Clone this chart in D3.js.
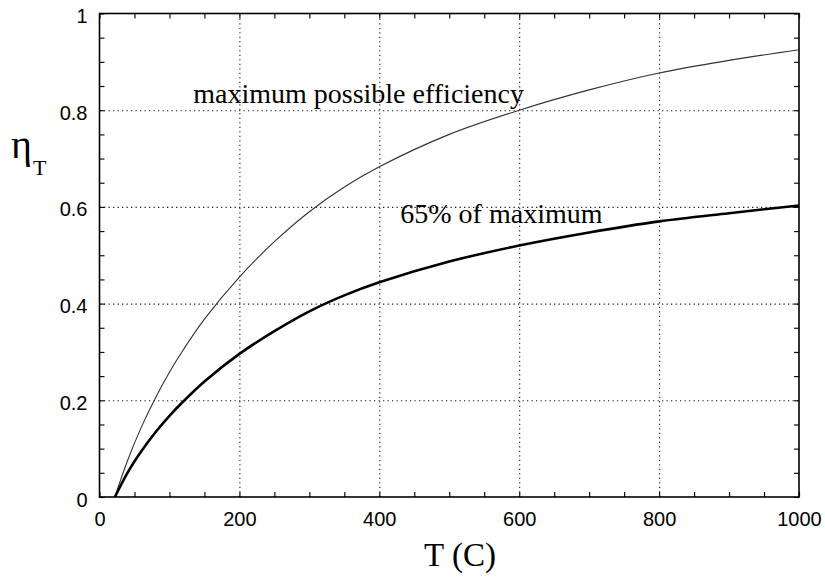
<!DOCTYPE html>
<html>
<head>
<meta charset="utf-8">
<script src="https://cdn.jsdelivr.net/npm/d3@7"></script>
<style>
  html, body { margin: 0; padding: 0; background: #fff; }
  svg { display: block; }
</style>
</head>
<body>
<svg id="chart" width="825" height="577"></svg>
<script>
// Source temperature (deg C) and turbine efficiency curves
const tempC = [22, 40, 60, 80, 100, 120, 150, 200, 250, 300, 350, 400, 500, 600, 700, 800, 900, 1000];
const maxEfficiency = [0, 0.075, 0.145, 0.205, 0.258, 0.305, 0.368, 0.455, 0.528, 0.59, 0.641, 0.683, 0.75, 0.8, 0.842, 0.877, 0.903, 0.925];
const practicalEfficiency = [0, 0.05, 0.095, 0.134, 0.168, 0.198, 0.239, 0.296, 0.343, 0.384, 0.417, 0.444, 0.487, 0.52, 0.547, 0.57, 0.587, 0.603];

// Axis ticks
const xMajorTicks = [0, 200, 400, 600, 800, 1000];
const xMinorTicks = [50, 100, 150, 250, 300, 350, 450, 500, 550, 650, 700, 750, 850, 900, 950];
const yMajorTicks = [0, 0.2, 0.4, 0.6, 0.8, 1];
const yMinorTicks = [0.05, 0.1, 0.15, 0.25, 0.3, 0.35, 0.45, 0.5, 0.55, 0.65, 0.7, 0.75, 0.85, 0.9, 0.95];

const svg = d3.select("#chart");
const x = d3.scaleLinear().domain([0, 1000]).range([99.5, 799]);
const y = d3.scaleLinear().domain([0, 1]).range([497, 13.5]);
const [x0, x1] = x.range();
const [y0, y1] = y.range();
const plotH = y0 - y1, plotW = x1 - x0;

// Dotted grid at the major ticks
const grid = svg.append("g").attr("class", "grid");
grid.append("g").attr("transform", `translate(0,${y0})`)
  .call(d3.axisBottom(x).tickValues(xMajorTicks.slice(1, -1)).tickSize(-plotH).tickFormat(""));
grid.append("g").attr("transform", `translate(${x0},0)`)
  .call(d3.axisLeft(y).tickValues(yMajorTicks.slice(1, -1)).tickSize(-plotW).tickFormat(""));
grid.selectAll(".domain").remove();
grid.selectAll("line").attr("stroke", "#222").attr("stroke-width", 1.1).attr("stroke-dasharray", "1.3,3.2");

// Inward ticks on all four sides
function ticks(axisFn, scale, values, size, transform) {
  const g = svg.append("g").attr("transform", transform)
    .call(axisFn(scale).tickValues(values).tickSize(size).tickFormat(""));
  g.select(".domain").remove();
  g.selectAll("line").attr("stroke", "#111").attr("stroke-width", 1.2);
}
const allX = xMajorTicks.concat(xMinorTicks), allY = yMajorTicks.concat(yMinorTicks);
ticks(d3.axisBottom, x, allX, -5, `translate(0,${y0})`);
ticks(d3.axisTop, x, allX, -5, `translate(0,${y1})`);
ticks(d3.axisLeft, y, allY, -5, `translate(${x0},0)`);
ticks(d3.axisRight, y, allY, -5, `translate(${x1},0)`);

// Frame
svg.append("rect").attr("x", x0).attr("y", y1).attr("width", plotW).attr("height", plotH)
  .attr("fill", "none").attr("stroke", "#000").attr("stroke-width", 1.6);

// Tick labels
const fmtY = d => d === 0 ? "0" : d === 1 ? "1" : d3.format(".1f")(d);
const xl = svg.append("g").attr("transform", `translate(0,${y0})`)
  .call(d3.axisBottom(x).tickValues(xMajorTicks).tickSize(0).tickPadding(15).tickFormat(d3.format("d")));
xl.select(".domain").remove();
xl.selectAll("text").attr("font-family", "Liberation Sans, Arial, sans-serif").attr("font-size", 20).attr("fill", "#000");
const yl = svg.append("g").attr("transform", `translate(${x0},0)`)
  .call(d3.axisLeft(y).tickValues(yMajorTicks).tickSize(0).tickPadding(12).tickFormat(fmtY));
yl.select(".domain").remove();
yl.selectAll("text").attr("font-family", "Liberation Sans, Arial, sans-serif").attr("font-size", 20).attr("fill", "#000").attr("dy", "0.45em");

// Curves
const line = d3.line().x((d, i) => x(tempC[i])).y(d => y(d)).curve(d3.curveCatmullRom.alpha(0.5));
svg.append("path").datum(maxEfficiency).attr("d", line)
  .attr("fill", "none").attr("stroke", "#333").attr("stroke-width", 1.1);
svg.append("path").datum(practicalEfficiency).attr("d", line)
  .attr("fill", "none").attr("stroke", "#000").attr("stroke-width", 2.6);

// Curve labels
const serif = "Liberation Serif, Times New Roman, serif";
svg.append("text").attr("x", x(134)).attr("y", y(0.815))
  .attr("font-family", serif).attr("font-size", 28).text("maximum possible efficiency");
svg.append("text").attr("x", x(430)).attr("y", y(0.566))
  .attr("font-family", serif).attr("font-size", 28).text("65% of maximum");

// Axis titles
svg.append("text").attr("x", 460).attr("y", 566).attr("text-anchor", "middle")
  .attr("font-family", serif).attr("font-size", 33).text("T (C)");
const eta = svg.append("text").attr("x", 11).attr("y", 158).attr("font-family", serif);
eta.append("tspan").attr("font-size", 40).text("η");
eta.append("tspan").attr("font-size", 22).attr("dy", 17).attr("dx", 1).text("T");
</script>
</body>
</html>
